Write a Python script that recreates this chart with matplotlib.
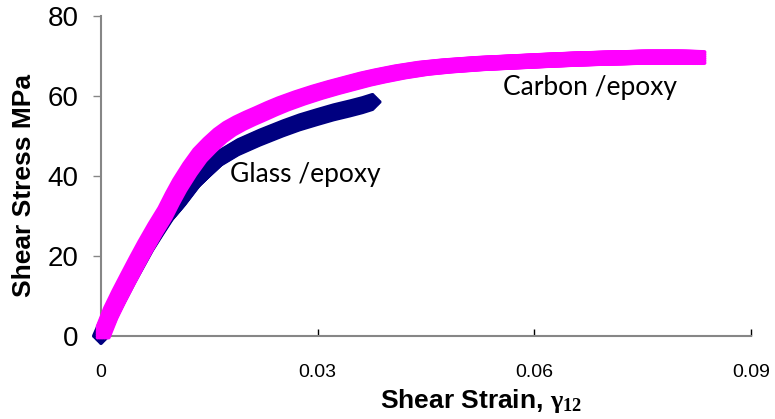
import matplotlib.pyplot as plt
import matplotlib.patheffects as pe
import numpy as np

plt.rcParams['font.family'] = ['Liberation Sans', 'DejaVu Sans']
plt.rcParams['mathtext.fontset'] = 'custom'
plt.rcParams['mathtext.rm'] = 'Liberation Serif:bold'
plt.rcParams['mathtext.it'] = 'Liberation Serif:bold'

carbon_strain = [0.0003, 0.00134, 0.0025, 0.00365, 0.0049, 0.0061, 0.0075, 0.00886,
                 0.0099, 0.0109, 0.0123, 0.0137, 0.0151, 0.0165, 0.0178, 0.0192,
                 0.0206, 0.0220, 0.0236, 0.0252, 0.0275, 0.0299, 0.0322, 0.0345,
                 0.0366, 0.0386, 0.0414, 0.0446, 0.0479, 0.0525, 0.0571, 0.0617,
                 0.0663, 0.0710, 0.0756, 0.0800, 0.0828]
carbon_stress = [1.0, 5.7, 10.0, 14.0, 18.3, 22.3, 26.7, 30.7,
                 34.4, 37.7, 41.7, 45.2, 47.8, 50.1, 51.8, 53.2,
                 54.4, 55.5, 56.8, 58.0, 59.5, 60.9, 62.1, 63.2,
                 64.2, 65.0, 66.0, 66.9, 67.5, 68.1, 68.5, 68.9,
                 69.25, 69.5, 69.7, 69.7, 69.6]

glass_strain = [0.0, 0.00134, 0.00365, 0.0061, 0.0075, 0.00886, 0.0106, 0.0128,
                0.0152, 0.0165, 0.0190, 0.0220, 0.0252, 0.0275, 0.0299, 0.0322,
                0.0345, 0.0362, 0.0376]
glass_stress = [0.0, 5.5, 13.5, 21.5, 25.5, 29.3, 33.0, 38.2,
                42.3, 44.5, 47.2, 49.6, 51.9, 53.4, 54.7, 55.9,
                56.9, 57.7, 58.5]

xticks = [0, 0.03, 0.06, 0.09]
xticklabels = ["0", "0.03", "0.06", "0.09"]
yticks = [0, 20, 40, 60, 80]


def pen(shape, size, color, lw=3.0):
    # sweep a small round pen over a square / diamond to mimic dense Excel markers
    h = (size - lw) / 2.0
    g = np.linspace(-h, h, 6)
    fx = []
    for u in g:
        for v in g:
            if shape == "square":
                dx, dy = u, v
            else:
                dx, dy = (u + v) / 2.0, (u - v) / 2.0
            fx.append(pe.Stroke(offset=(dx, dy), linewidth=lw, foreground=color))
    return fx


fig = plt.figure(figsize=(7.75, 4.19), dpi=100)
ax = fig.add_axes([0.1303, 0.198, 0.8387, 0.764])

l1, = ax.plot(glass_strain, glass_stress, color="#000080", lw=3,
              solid_capstyle="round", solid_joinstyle="round",
              clip_on=False, zorder=3)
l1.set_path_effects(pen("diamond", 13.0, "#000080"))
l2, = ax.plot(carbon_strain, carbon_stress, color="#ff00ff", lw=3,
              solid_capstyle="round", solid_joinstyle="round",
              clip_on=False, zorder=4)
l2.set_path_effects(pen("square", 10.8, "#ff00ff"))

ax.text(0.01786, 38.5, "Glass /epoxy", fontsize=19, family="Lato", va="baseline")
ax.text(0.0557, 60.3, "Carbon /epoxy", fontsize=19, family="Lato", va="baseline")

ax.set_xlim(0, 0.09)
ax.set_ylim(0, 80)
ax.set_xticks(xticks)
ax.set_xticklabels(xticklabels)
ax.set_yticks(yticks)

for s in ["top", "right"]:
    ax.spines[s].set_visible(False)
for s in ["left", "bottom"]:
    ax.spines[s].set_color("#868686")
    ax.spines[s].set_linewidth(1.5)

ax.tick_params(axis="y", direction="out", length=6, width=1, color="#868686",
               labelsize=20, pad=10)
ax.tick_params(axis="x", direction="in", length=5, width=1, color="black",
               labelsize=14, pad=20)

ax.set_xlabel(r"Shear Strain, $\gamma_{12}$", fontsize=19, fontweight="bold")
ax.set_ylabel("Shear Stress MPa", fontsize=19, fontweight="bold")
ax.xaxis.set_label_coords(0.585, -0.16)
ax.yaxis.set_label_coords(-0.10, 0.469)

plt.savefig("out.png", dpi=100)
